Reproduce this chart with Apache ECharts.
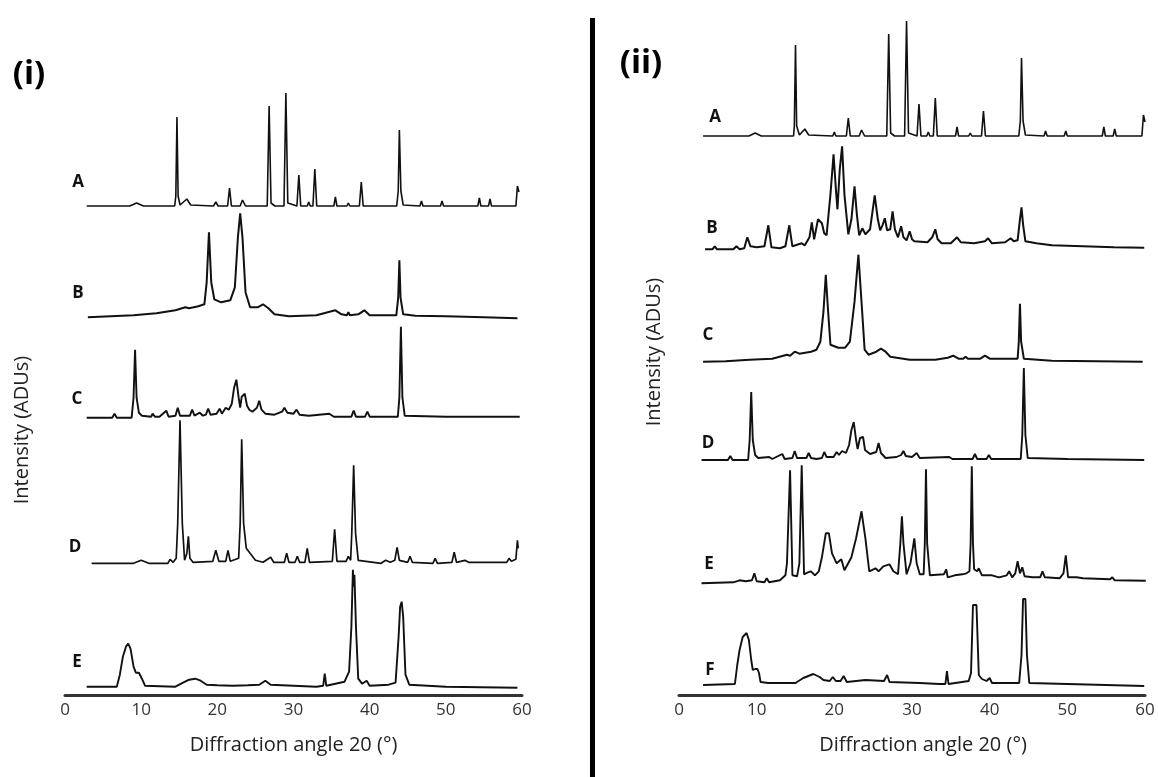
<!DOCTYPE html>
<html><head><meta charset="utf-8">
<script src="https://cdn.jsdelivr.net/npm/echarts@6/dist/echarts.min.js"></script>
<style>html,body{margin:0;padding:0;background:#fff}#c{width:1158px;height:777px}</style>
</head><body><div id="c"></div>
<script>
// ---- data (2θ in degrees, intensity in arbitrary units above each trace's own baseline) ----
const xTickValues = [0, 10, 20, 30, 40, 50, 60];
const leftNames = ['A', 'B', 'C', 'D', 'E'];
const rightNames = ['A', 'B', 'C', 'D', 'E', 'F'];
// stacking offsets (baselines) of the traces
const leftOffsets = [489, 377.7, 277.3, 131.7, 8.3];
const rightOffsets = [559, 445.7, 333.3, 235, 111.7, 10];

const leftA = [[2.85,0],[8.5,0],[9.4,3],[10.3,0],[14.4,0],[14.55,10],[14.7,89],[14.85,10],[15.1,1],[16.0,7],[16.5,1],[19.5,0],[19.8,4],[20.1,0],[21.35,0],[21.6,18],[21.85,0],[23.0,0],[23.3,6],[23.7,0],[26.55,0],[26.8,100],[27.05,3],[27.3,5],[27.55,0],[28.75,0],[29.0,113],[29.25,3],[30.45,0],[30.7,31],[30.95,0],[31.8,0],[32.0,4],[32.2,0],[32.55,0],[32.8,37],[33.05,0],[35.3,0],[35.5,9],[35.7,0],[37.0,0],[37.2,3],[37.4,0],[38.65,0],[38.9,24],[39.15,0],[43.55,0],[43.75,15],[43.9,76],[44.1,15],[44.4,1],[46.6,0],[46.8,5],[47.0,0],[49.3,0],[49.5,5],[49.7,0],[54.2,0],[54.4,8],[54.6,0],[55.6,0],[55.8,7],[56.0,0],[59.2,0],[59.4,20],[59.6,14]];
const leftB = [[3.0,0],[6.0,1],[9.0,2],[12.0,4],[14.5,7],[15.8,10],[16.3,9],[17.5,11],[18.3,13],[18.6,35],[18.9,85],[19.2,35],[19.6,18],[20.5,15],[21.7,17],[22.3,30],[22.7,80],[23.0,104],[23.3,80],[23.7,25],[24.3,10],[25.3,10],[26.0,13],[26.7,9],[27.5,3],[29.4,1],[33.0,2],[34.5,5],[35.5,7],[36.3,3],[37.0,2],[37.2,5],[37.4,2],[38.5,3],[39.3,7],[40.0,2],[43.5,2],[43.75,20],[43.9,57],[44.05,20],[44.4,3],[46,1.5],[50,1],[55,0],[59.4,-1]];
const leftC = [[2.85,0],[6.2,0],[6.5,4],[6.8,0],[8.75,0],[9.0,20],[9.2,68],[9.4,20],[9.7,5],[10.1,2],[11.3,1],[11.5,4],[11.8,1],[12.4,1],[13.3,7],[13.6,1],[14.5,2],[14.8,10],[15.1,2],[16.4,2],[16.7,8],[17.0,2],[17.7,5],[18.1,2],[18.5,3],[18.8,9],[19.1,3],[19.9,4],[20.3,9],[20.6,4],[21.1,10],[21.5,8],[21.9,14],[22.2,30],[22.5,38],[22.8,20],[23.0,10],[23.2,21],[23.4,22],[23.6,24],[23.9,12],[24.2,8],[24.6,6],[25.2,10],[25.5,17],[25.8,8],[26.3,4],[27.5,3],[28.5,6],[28.8,10],[29.2,5],[30.0,4],[30.4,8],[30.8,3],[32,2],[34.7,4],[35.3,1],[37.6,1],[37.9,7],[38.2,1],[39.4,1],[39.7,6],[40.0,1],[43.7,1],[43.9,20],[44.1,91],[44.3,20],[44.6,2],[50,1],[59.7,1]];
const leftD = [[3.5,0],[9.0,0],[10.0,3],[11.0,0],[13.5,0],[13.8,4],[14.2,1],[14.6,5],[14.8,40],[15.1,143],[15.4,40],[15.7,3],[16.0,10],[16.2,27],[16.4,5],[16.8,1],[19.4,2],[19.8,13],[20.2,2],[21.1,2],[21.4,13],[21.7,2],[22.8,5],[23.0,40],[23.2,124],[23.45,40],[23.8,15],[24.3,10],[25.0,3],[26.0,1],[27.0,6],[27.4,1],[28.8,1],[29.1,10],[29.4,1],[30.2,1],[30.5,7],[30.8,1],[31.5,1],[31.8,15],[32.1,1],[35.1,2],[35.4,34],[35.7,2],[36.9,2],[37.2,7],[37.5,3],[37.65,30],[37.9,98],[38.15,30],[38.5,3],[41.5,0],[42.1,3],[42.7,1],[43.3,3],[43.6,16],[43.9,3],[45.0,1],[45.3,7],[45.6,1],[48.3,0],[48.6,5],[48.9,0],[50.8,1],[51.1,11],[51.4,1],[52.5,3],[53,1],[58.0,1],[58.3,5],[58.6,2],[59.2,4],[59.4,23],[59.5,15]];
const leftE = [[2.85,0],[6.8,0],[7.2,12],[7.6,30],[8.0,40],[8.3,43],[8.6,38],[9.0,20],[9.3,14],[9.7,14],[10.1,8],[10.5,1],[14.5,0],[15.5,4],[16.3,7],[17.1,8],[17.8,6],[18.6,2],[20,1.5],[22,1],[24,1.5],[25.5,2],[26.3,6],[27,2],[30,1],[33.0,0],[33.9,1],[34.1,13],[34.3,1],[36.7,5],[37.3,15],[37.6,60],[37.8,117],[37.9,100],[38.0,112],[38.2,60],[38.5,8],[39.0,3],[39.6,6],[40.0,1],[42.5,2],[43.4,4],[43.8,50],[44.0,80],[44.2,85],[44.4,70],[44.7,12],[45.2,2],[50,0],[59.4,-1]];

const rightA = [[3.1,0],[9.0,0],[9.8,3],[10.6,0],[14.75,0],[14.85,10],[15.0,91],[15.15,10],[15.5,1],[16.2,7],[16.7,1],[19.8,0],[20.0,4],[20.2,0],[21.55,0],[21.8,18],[22.05,0],[23.2,0],[23.5,6],[23.9,0],[26.75,0],[27.0,102],[27.25,3],[27.5,5],[27.75,0],[29.05,0],[29.3,115],[29.55,3],[30.65,0],[30.9,32],[31.15,0],[31.9,0],[32.1,4],[32.3,0],[32.75,0],[33.0,38],[33.25,0],[35.6,0],[35.8,9],[36.0,0],[37.3,0],[37.5,3],[37.7,0],[38.95,0],[39.2,25],[39.45,0],[43.75,0],[43.95,15],[44.1,78],[44.3,15],[44.6,1],[47.0,0],[47.2,5],[47.4,0],[49.6,0],[49.8,5],[50.0,0],[54.5,0],[54.7,9],[54.9,0],[55.9,0],[56.1,7],[56.3,0],[59.6,0],[59.8,21],[60.0,14]];
const rightB = [[3.35,0],[4.3,0],[4.6,3],[4.9,0],[7.0,0],[7.4,3],[7.8,0],[8.4,1],[8.8,12],[9.2,3],[10.0,2],[11.0,3],[11.5,24],[11.9,2],[13.0,1],[13.7,3],[14.2,24],[14.6,3],[15.4,5],[15.8,6],[16.2,4],[16.8,12],[17.1,27],[17.4,10],[17.7,22],[17.9,30],[18.4,26],[18.7,16],[19.0,14],[19.5,55],[19.9,95],[20.2,60],[20.4,40],[20.7,80],[21.0,103],[21.3,55],[21.8,15],[22.2,30],[22.6,63],[22.9,35],[23.2,14],[23.6,21],[24.0,15],[24.6,20],[25.2,54],[25.6,30],[25.9,19],[26.2,24],[26.5,31],[26.8,19],[27.2,20],[27.5,38],[27.8,20],[28.2,12],[28.6,23],[28.9,12],[29.3,9],[29.7,18],[30.0,10],[30.3,8],[32.0,7],[32.6,12],[33.0,20],[33.3,10],[33.8,6],[35.0,6],[35.8,12],[36.3,7],[38.0,6],[39.4,8],[39.8,11],[40.3,6],[42.0,7],[42.7,11],[43.1,8],[43.6,9],[43.9,30],[44.1,42],[44.3,25],[44.6,8],[46.0,6],[48.0,4],[52.0,3],[56.0,2],[59.9,1.6]];
const rightC = [[3.1,0],[6,0.5],[9.1,2],[12,3],[13.9,7],[14.3,6],[14.9,10],[15.5,8],[17.0,10],[17.7,12],[18.2,20],[18.6,50],[18.9,87],[19.2,50],[19.5,17],[20.5,14],[21.4,14],[22.0,20],[22.6,60],[23.1,107],[23.5,60],[23.9,12],[24.4,7],[25.4,10],[26.0,13],[26.6,10],[27.2,5],[29.7,2],[33,2],[34.6,4],[35.3,6],[36.0,3],[36.6,3],[36.9,5],[37.2,3],[38.8,3],[39.4,6],[40,3],[43.6,3],[43.75,20],[43.9,58],[44.05,20],[44.4,3],[48,1],[59.7,0]];
const rightD = [[2.9,0],[6.3,0],[6.6,4],[6.9,0],[8.9,0],[9.1,20],[9.3,68],[9.5,20],[9.8,5],[10.2,2],[11.6,3],[12.0,1],[13.3,6],[13.6,1],[14.6,2],[14.9,9],[15.2,2],[16.4,2],[16.7,7],[17.0,2],[17.7,1],[18.4,2],[18.7,8],[19.0,3],[19.9,3],[20.3,8],[20.6,5],[21.0,9],[21.5,7],[21.9,15],[22.2,30],[22.5,38],[22.8,20],[23.0,11],[23.3,22],[23.5,21],[23.7,23],[23.95,10],[24.2,8],[24.6,6],[25.4,8],[25.7,17],[26.0,7],[26.6,2],[28,3],[28.6,5],[28.9,9],[29.2,4],[30.0,3],[30.6,7],[31.0,2],[34.8,3],[35.2,1],[37.8,1],[38.1,6],[38.4,1],[39.6,1],[39.9,5],[40.2,1],[44.0,1],[44.2,25],[44.4,92],[44.6,25],[44.9,2],[50,1],[59.9,0]];
const rightE = [[2.9,0],[7.0,1],[7.8,3],[8.6,2],[9.4,3],[9.7,10],[10.0,2],[11.0,1],[11.3,5],[11.6,1],[13.0,3],[13.7,8],[13.9,20],[14.3,113],[14.6,8],[15.2,7],[15.5,20],[15.8,118],[16.1,9],[16.6,11],[17.0,12],[17.5,8],[18.0,12],[18.4,26],[18.9,50],[19.3,50],[19.7,30],[20.3,20],[20.9,24],[21.3,13],[22.2,26],[22.8,45],[23.5,72],[24.0,45],[24.5,12],[24.7,11],[25.3,15],[25.7,12],[26.3,17],[27.1,19],[27.6,12],[28.2,9],[28.5,40],[28.7,67],[28.9,40],[29.3,9],[29.8,20],[30.3,45],[30.6,20],[31.0,9],[31.5,9],[31.65,40],[31.8,114],[31.95,40],[32.3,8],[34.1,9],[34.4,14],[34.6,6],[35.5,8],[36.5,9],[37.0,10],[37.4,12],[37.55,40],[37.7,117],[37.85,40],[38.0,14],[38.2,14],[38.4,12],[38.6,15],[39.0,8],[40.3,8],[41.2,6],[42.2,8],[42.5,12],[42.9,6],[43.3,10],[43.6,22],[43.9,10],[44.2,16],[44.5,7],[45.5,6],[46.5,6],[46.8,12],[47.1,6],[49.0,5],[49.5,10],[49.8,28],[50.1,6],[51.2,6],[52.0,5],[55.5,4],[55.8,6],[56.1,3],[60.1,2.6]];
const rightF = [[3.1,0],[7.2,1],[7.5,20],[7.8,35],[8.2,48],[8.7,52],[9.0,45],[9.3,25],[9.5,15],[9.8,16],[10.1,16],[10.3,12],[10.5,3],[11.5,2],[15.0,2],[16.0,7],[17.3,11],[18.1,8],[18.6,5],[19.4,4],[19.8,8],[20.2,4],[20.8,4],[21.2,9],[21.6,3],[24.0,5],[26.4,4],[26.8,10],[27.1,3],[31,2],[33.5,1],[34.3,1],[34.5,14],[34.7,1],[37.3,4],[37.6,12],[37.85,80],[38.3,80],[38.6,10],[39.0,6],[39.6,4],[40.0,7],[40.3,2],[43.8,2],[44.1,30],[44.3,86],[44.6,86],[44.8,30],[45.1,2],[50,1],[59.9,-1]];

const leftPatterns = [leftA, leftB, leftC, leftD, leftE];
const rightPatterns = [rightA, rightB, rightC, rightD, rightE, rightF];

// ---- layout ----
const FONT = '"Open Sans", "Noto Sans", sans-serif';
const leftLabelPos = [[78,182],[78,293],[77,399],[75,547],[77,662]];
const rightLabelPos = [[715,117],[712,228],[708,335],[708,443],[709,564],[710,670]];
const leftWidths = [1.6, 2.0, 1.9, 1.7, 1.9];
const rightWidths = [1.6, 2.0, 2.0, 1.9, 1.9, 1.9];

function xAxisFor(gridIndex, shift) {
  return {
    gridIndex, type: 'value', min: 0, max: 60, interval: 10,
    axisLine: { show: true, onZero: false, lineStyle: { color: '#333', width: 3 } },
    axisTick: { show: false }, splitLine: { show: false },
    axisLabel: { color: '#333', fontSize: 17, fontFamily: FONT, margin: 7,
      customValues: xTickValues },
    name: 'Diffraction angle 20 (°)', nameLocation: 'middle', nameGap: 40,
    nameTextStyle: { color: '#222', fontSize: 20, fontFamily: FONT, padding: [0, 0, 0, shift] }
  };
}
function yAxisFor(gridIndex, max) {
  return { gridIndex, type: 'value', min: 0, max, show: false };
}

const series = [];
leftPatterns.forEach((pts, i) => {
  series.push({ name: '(i) ' + leftNames[i], type: 'line', xAxisIndex: 0, yAxisIndex: 0,
    data: pts.map(p => [p[0], p[1] + leftOffsets[i]]),
    showSymbol: false, symbol: 'none', smooth: false, silent: true,
    lineStyle: { color: '#111', width: leftWidths[i] } });
});
rightPatterns.forEach((pts, i) => {
  series.push({ name: '(ii) ' + rightNames[i], type: 'line', xAxisIndex: 1, yAxisIndex: 1,
    data: pts.map(p => [p[0], p[1] + rightOffsets[i]]),
    showSymbol: false, symbol: 'none', smooth: false, silent: true,
    lineStyle: { color: '#111', width: rightWidths[i] } });
});

const graphics = [
  { type: 'rect', shape: { x: 590, y: 18, width: 5, height: 759 }, style: { fill: '#000' } },
  { type: 'text', x: 29, y: 75, style: { text: '(i)', font: 'bold 33px ' + FONT, fill: '#000', textAlign: 'center', textVerticalAlign: 'middle' } },
  { type: 'text', x: 641, y: 64, style: { text: '(ii)', font: 'bold 33px ' + FONT, fill: '#000', textAlign: 'center', textVerticalAlign: 'middle' } },
  { type: 'text', x: 22, y: 430, rotation: Math.PI / 2, style: { text: 'Intensity (ADUs)', font: '20px ' + FONT, fill: '#222', textAlign: 'center', textVerticalAlign: 'middle' } },
  { type: 'text', x: 654, y: 352, rotation: Math.PI / 2, style: { text: 'Intensity (ADUs)', font: '20px ' + FONT, fill: '#222', textAlign: 'center', textVerticalAlign: 'middle' } }
];
leftNames.forEach((n, i) => graphics.push({ type: 'text', x: leftLabelPos[i][0], y: leftLabelPos[i][1],
  style: { text: n, font: 'bold 17px ' + FONT, fill: '#111', textAlign: 'center', textVerticalAlign: 'middle' } }));
rightNames.forEach((n, i) => graphics.push({ type: 'text', x: rightLabelPos[i][0], y: rightLabelPos[i][1],
  style: { text: n, font: 'bold 17px ' + FONT, fill: '#111', textAlign: 'center', textVerticalAlign: 'middle' } }));

const chart = echarts.init(document.getElementById('c'), null, { renderer: 'canvas' });
chart.setOption({
  animation: false,
  backgroundColor: '#fff',
  grid: [
    { left: 65, width: 457, top: 40, height: 655 },
    { left: 679, width: 466, top: 10, height: 685 }
  ],
  xAxis: [xAxisFor(0, 0), xAxisFor(1, 22)],
  yAxis: [yAxisFor(0, 655), yAxisFor(1, 685)],
  series,
  graphic: graphics
});
</script>
</body></html>
